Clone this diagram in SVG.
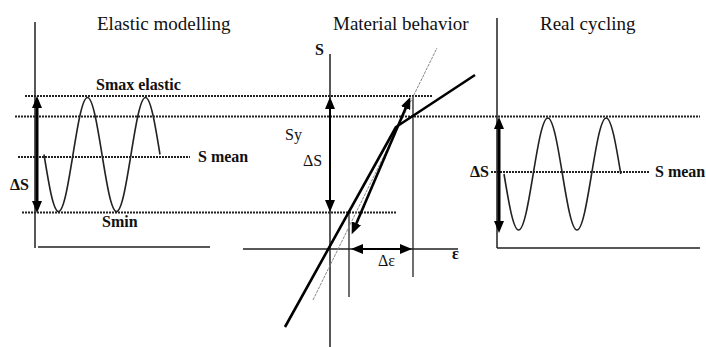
<svg xmlns="http://www.w3.org/2000/svg" width="706" height="347" viewBox="0 0 706 347">
<style>
text{font-family:'Liberation Serif','DejaVu Serif',serif;fill:#111}
.title{font-size:19px}
.lbl{font-size:16px;font-weight:bold}
.reg{font-size:16px}
.axis{stroke:#222;stroke-width:1.5;fill:none}
.thin{stroke:#222;stroke-width:1.3;fill:none}
.dot{stroke:#222;stroke-width:1.8;stroke-dasharray:2 1;fill:none}
.wave{stroke:#222;stroke-width:1.6;fill:none}
.arr{stroke:#000;stroke-width:3;fill:none;marker-start:url(#ah);marker-end:url(#ah)}
.arr2{stroke:#000;stroke-width:2;fill:none;marker-start:url(#ah);marker-end:url(#ah)}
.curve{stroke:#000;stroke-width:2.6;fill:none;stroke-linejoin:round}
.elastic{stroke:#888;stroke-width:1;stroke-dasharray:3 1;fill:none}
</style>
<defs>
<marker id="ah" markerUnits="userSpaceOnUse" markerWidth="13" markerHeight="10" refX="1" refY="5" orient="auto-start-reverse">
<path d="M0,0 L12,5 L0,10 z" fill="#000"/>
</marker>
</defs>
<rect width="706" height="347" fill="#fff"/>

<g id="guides">
<path class="dot" d="M25,96 H432"/>
<path class="dot" d="M15,116.5 H700"/>
<path class="dot" d="M18,157 H190"/>
<path class="dot" d="M22,212.5 H397"/>
<path class="dot" d="M491,172 H650"/>
</g>

<g id="elastic-modelling" font-family="Liberation Serif, DejaVu Serif, serif">
<text class="title" x="97" y="30">Elastic modelling</text>
<path class="axis" d="M35,22 V248 M38,247 H210"/>
<path class="wave" d="M44,154.5 c4.73,29.2 9.25,57 14.5,57 c5.25,0 9.77,-27.8 14.5,-57 c4.73,-29.2 9.25,-57 14.5,-57 c5.25,0 9.77,27.8 14.5,57 c4.73,29.2 9.25,57 14.5,57 c5.25,0 9.77,-27.8 14.5,-57 c4.73,-29.2 9.25,-57 14.5,-57 c5.25,0 9.77,27.8 14.5,57"/>
<path class="arr" d="M37,107 V202"/>
<text class="lbl" x="96" y="90">Smax elastic</text>
<text class="lbl" x="198" y="162">S mean</text>
<text class="lbl" x="102" y="227">Smin</text>
<text class="lbl" x="10" y="190">ΔS</text>
</g>

<g id="material-behavior" font-family="Liberation Serif, DejaVu Serif, serif">
<text class="title" x="333" y="30">Material behavior</text>
<path class="axis" d="M330,54 V347 M243,249 H458"/>
<path class="thin" d="M413,96 V277 M349,210 V297"/>
<path class="elastic" d="M313,300 L437,48"/>
<path class="curve" d="M285,327 L396,127 L475,75"/>
<path class="arr2" d="M356,224.2 L406,107.2" style="stroke-width:2.6"/>
<path class="arr2" d="M330,108 V201"/>
<path class="arr2" d="M362,249 H401"/>
<text class="lbl" x="315" y="55">S</text>
<text class="reg" x="285" y="140">Sy</text>
<text class="reg" x="303" y="166">ΔS</text>
<text class="reg" x="378" y="266">Δε</text>
<text class="lbl" x="452" y="259">ε</text>
</g>

<g id="real-cycling" font-family="Liberation Serif, DejaVu Serif, serif">
<text class="title" x="540" y="30">Real cycling</text>
<path class="axis" d="M497,18 V248 M497,248 H700"/>
<path class="wave" d="M504,174 c4.76,28.9 9.3,56 14.6,56 c5.3,0 9.84,-27.1 14.6,-56 c4.76,-28.9 9.3,-56 14.6,-56 c5.3,0 9.84,27.1 14.6,56 c4.76,28.9 9.3,56 14.6,56 c5.3,0 9.84,-27.1 14.6,-56 c4.76,-28.9 9.3,-56 14.6,-56 c5.3,0 9.84,27.1 14.6,56"/>
<path class="arr" d="M499,128 V222"/>
<text class="lbl" x="470" y="177">ΔS</text>
<text class="lbl" x="655" y="177">S mean</text>
</g>
</svg>
